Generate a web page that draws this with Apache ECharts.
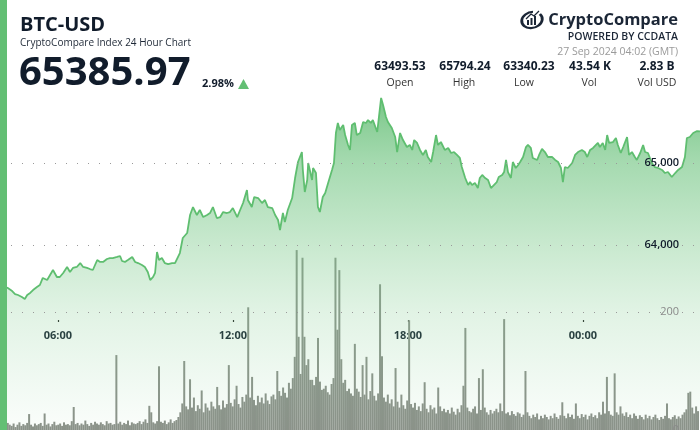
<!DOCTYPE html>
<html><head><meta charset="utf-8">
<script src="https://cdn.jsdelivr.net/npm/echarts@6/dist/echarts.min.js"></script>
<style>html,body{margin:0;padding:0;background:#fff}#c{width:700px;height:430px}</style>
</head><body><div id="c"></div>
<script>
// ---- data ----
const startTime = Date.UTC(2024, 8, 26, 4, 1);   // 26 Sep 2024 04:01 GMT
const endTime = startTime + 24 * 3600 * 1000;
// [minutes since start, price USD]
const pricePoints = [[0,63494],[16,63476],[25,63439],[31,63402],[37,63390],[45,63366],[51,63341],[56,63390],[62,63415],[68,63451],[76,63488],[82,63512],[88,63598],[97,63573],[103,63634],[109,63695],[117,63610],[123,63610],[130,63659],[138,63732],[144,63671],[150,63720],[158,63732],[165,63780],[171,63732],[179,63720],[185,63707],[191,63695],[200,63817],[206,63793],[212,63793],[220,63829],[226,63841],[232,63841],[241,63854],[247,63866],[251,63805],[257,63793],[263,63817],[272,63854],[278,63793],[284,63780],[292,63756],[298,63732],[304,63671],[309,63573],[315,63610],[319,63659],[323,63915],[327,63817],[333,63841],[339,63780],[346,63768],[354,63780],[360,63780],[370,63902],[376,64085],[385,64146],[391,64366],[397,64463],[405,64366],[411,64427],[418,64341],[426,64366],[432,64390],[438,64463],[446,64329],[453,64341],[459,64402],[467,64390],[473,64402],[479,64451],[488,64341],[494,64427],[500,64512],[508,64671],[510,64549],[518,64463],[523,64585],[531,64573],[539,64512],[545,64549],[551,64463],[560,64451],[566,64366],[572,64305],[576,64183],[582,64390],[586,64280],[592,64427],[601,64573],[607,64817],[613,65012],[621,65134],[623,64915],[627,64646],[632,64793],[634,65000],[642,64793],[644,64939],[650,64878],[654,64463],[658,64402],[664,64585],[669,64634],[675,64756],[683,64915],[687,65000],[691,65366],[695,65488],[699,65402],[706,65463],[710,65341],[716,65220],[720,65159],[724,65463],[730,65488],[734,65341],[741,65366],[747,65500],[753,65488],[757,65524],[763,65488],[767,65524],[776,65378],[778,65366],[784,65794],[788,65707],[794,65561],[798,65500],[806,65427],[813,65317],[817,65134],[823,65366],[829,65280],[837,65195],[843,65220],[848,65159],[852,65280],[858,65244],[864,65159],[870,65098],[876,65159],[880,65073],[887,65012],[891,65134],[897,65341],[901,65220],[907,65256],[911,65244],[915,65159],[922,65183],[928,65122],[934,65134],[940,65098],[946,65061],[950,64951],[957,64817],[963,64732],[967,64768],[971,64732],[977,64756],[983,64695],[987,64817],[992,64854],[998,64817],[1004,64793],[1010,64695],[1014,64707],[1022,64768],[1026,64829],[1033,64854],[1037,64890],[1041,65037],[1045,64890],[1051,64817],[1055,65012],[1061,64939],[1066,64976],[1070,65012],[1076,65073],[1082,65195],[1086,65220],[1092,65183],[1096,65061],[1105,65037],[1109,65098],[1115,65171],[1121,65134],[1127,65073],[1136,65073],[1142,65037],[1148,65012],[1154,64939],[1158,64768],[1162,64951],[1168,64939],[1177,65000],[1183,65098],[1189,65134],[1197,65159],[1203,65134],[1208,65073],[1214,65159],[1220,65183],[1224,65159],[1230,65244],[1234,65195],[1240,65244],[1245,65159],[1249,65341],[1253,65244],[1261,65256],[1267,65305],[1271,65220],[1277,65122],[1282,65195],[1290,65317],[1294,65098],[1300,65134],[1306,65073],[1310,65037],[1317,65122],[1323,65220],[1327,65134],[1333,65122],[1341,65000],[1347,64951],[1354,64939],[1362,64915],[1368,64878],[1374,64890],[1382,64829],[1389,64878],[1395,64915],[1403,64951],[1409,65073],[1413,65305],[1419,65317],[1426,65366],[1434,65390],[1440,65386]];
// volume (BTC) per 4-minute bucket, 360 buckets
const volumeBucketMinutes = 4;
const volumeValues = [
8,10,6,12,9,7,11,5,9,13, 7,10,8,12,27,9,6,11,8,10, 12,7,28,9,11,6,10,14,8,9, 11,7,13,9,10,8,15,39,10,12,
8,11,9,16,10,7,12,9,14,11, 9,13,10,8,15,11,12,9,10,127, 11,14,9,12,10,16,8,13,11,10, 12,15,10,14,18,12,41,30,13,11,
15,108,14,12,16,10,13,18,12,15, 17,22,30,45,117,40,35,86,38,55, 32,42,36,67,30,45,38,33,48,40, 36,73,42,35,50,38,44,110,46,40,
52,75,44,38,56,48,60,208,55,90, 51,42,58,47,55,45,62,50,44,57, 60,52,100,66,58,72,63,55,80,70, 88,124,305,158,95,292,158,110,120,85,
85,76,90,156,82,68,70,75,64,60, 78,88,292,170,271,120,80,85,66,70, 62,58,146,70,65,56,110,60,124,52, 66,96,58,50,62,247,125,55,48,60,
45,52,40,105,48,38,60,42,36,50, 186,44,38,46,34,40,32,45,81,36, 30,42,35,38,28,72,40,32,36,30, 34,28,38,31,26,36,30,42,75,173,
38,32,30,36,40,28,88,34,103,38, 30,26,34,28,32,36,30,45,32,188, 28,30,25,32,27,24,30,28,22,26, 100,30,24,20,26,22,28,18,24,20,
26,22,18,24,20,28,22,19,25,47, 24,20,28,22,26,19,45,24,20,27, 22,26,18,24,28,22,25,20,30,26, 48,28,90,32,26,24,96,30,26,40,
28,24,30,22,26,20,28,24,19,25, 22,18,26,20,24,18,22,26,20,17, 22,19,24,45,20,18,22,25,19,23, 20,26,30,35,63,65,38,28,40,32];
const timeTicks = ['2024-09-26T06:00:00Z', '2024-09-26T12:00:00Z', '2024-09-26T18:00:00Z', '2024-09-27T00:00:00Z'];
const priceAxisLabels = [64000, 65000];
const volumeAxisLabels = [0, 200];
const statValues = ['63493.53', '65794.24', '63340.23', '43.54 K', '2.83 B'];
const statLabels = ['Open', 'High', 'Low', 'Vol', 'Vol USD'];
const lastPrice = '65385.97';
const changePct = '2.98%';

// ---- build ----
const priceData = pricePoints.map(p => [startTime + p[0] * 60000, p[1]]);
const volumeData = volumeValues.map((v, i) => [startTime + (i * volumeBucketMinutes + volumeBucketMinutes / 2) * 60000, v]);
const tickTimes = timeTicks.map(t => Date.parse(t));

const FONT = '"Open Sans", "Noto Sans", sans-serif';
const dark = '#111c2b';
function txt(x, y, text, size, weight, color, align) {
  return {type: 'text', x: x, y: y, z: 50, silent: true,
    style: {text: text, font: weight + ' ' + size + 'px ' + FONT, fill: color,
      textAlign: align || 'left', align: align || 'left', textVerticalAlign: 'middle', verticalAlign: 'middle'}};
}
const statX = [400, 465, 529, 590, 657];
const statLabelX = [400, 464, 524, 589, 657];
const graphics = [
  {type: 'rect', z: 100, silent: true, shape: {x: 0, y: 0, width: 7, height: 430}, style: {fill: '#63bf74'}},
  txt(20, 25, 'BTC-USD', 20, 'bold', dark),
  txt(20, 43, 'CryptoCompare Index 24 Hour Chart', 10, 'normal', '#1f2937'),
  txt(19, 74, lastPrice, 40, 'bold', dark),
  txt(202, 84, changePct, 11, 'bold', dark),
  {type: 'polygon', z: 50, silent: true, shape: {points: [[238, 89], [249, 89], [243.5, 79]]}, style: {fill: '#63bf74'}},
  // logo
  {type: 'arc', z: 50, silent: true, x: 532, y: 20, scaleX: 1.3, rotation: 0.25,
    shape: {cx: 0, cy: 0, r: 8, startAngle: -0.5, endAngle: 5.0}, style: {stroke: '#1b2636', lineWidth: 2.2, fill: null}},
  {type: 'rect', z: 50, silent: true, shape: {x: 527, y: 20, width: 2, height: 5}, style: {fill: '#1b2636'}},
  {type: 'rect', z: 50, silent: true, shape: {x: 530.5, y: 18, width: 2, height: 7}, style: {fill: '#1b2636'}},
  {type: 'rect', z: 50, silent: true, shape: {x: 534, y: 16, width: 2, height: 9}, style: {fill: '#1b2636'}},
  {type: 'polyline', z: 50, silent: true, shape: {points: [[526, 19], [531, 14], [534, 16], [539, 11]]}, style: {stroke: '#1b2636', lineWidth: 1.3, fill: null}},
  txt(678, 20, 'CryptoCompare', 16.5, 'bold', '#1b2636', 'right'),
  txt(678, 37, 'POWERED BY CCDATA', 10.5, '600', '#1b2636', 'right'),
  txt(678, 52, '27 Sep 2024 04:02 (GMT)', 10.5, 'normal', '#9a9a9a', 'right')
];
statValues.forEach((v, i) => graphics.push(txt(statX[i], 67, v, 12, 'bold', dark, 'center')));
statLabels.forEach((v, i) => graphics.push(txt(statLabelX[i], 83, v, 10.5, 'normal', '#333', 'center')));

const dots = {type: [1, 10], color: '#999', width: 1};
const fmtNum = v => String(v).replace(/\B(?=(\d{3})+(?!\d))/g, ',');
const pad = n => (n < 10 ? '0' : '') + n;

const option = {
  useUTC: true,
  animation: false,
  backgroundColor: '#fff',
  textStyle: {fontFamily: FONT},
  grid: [
    {left: 0, right: 0, top: 81, height: 410, outerBoundsMode: 'none', containLabel: false},   // price
    {left: 0, right: 0, top: 194, bottom: 0, outerBoundsMode: 'none', containLabel: false},    // volume
    {left: 0, right: 0, top: 0, height: 320, outerBoundsMode: 'none', containLabel: false}     // time labels
  ],
  xAxis: [
    {type: 'time', gridIndex: 0, min: startTime, max: endTime, show: false},
    {type: 'time', gridIndex: 1, min: startTime, max: endTime, show: false},
    {type: 'value', gridIndex: 2, min: startTime, max: endTime, scale: true,
      axisLine: {show: false}, splitLine: {show: false},
      axisTick: {show: true, length: 2, customValues: tickTimes, lineStyle: {color: '#222', width: 1.2}},
      axisLabel: {margin: 10, fontSize: 11, fontWeight: 'bold', color: dark, fontFamily: FONT, customValues: tickTimes,
        formatter: v => { const d = new Date(v); return pad(d.getUTCHours()) + ':' + pad(d.getUTCMinutes()); }}}
  ],
  yAxis: [
    {type: 'value', gridIndex: 0, position: 'right', min: 61000, max: 66000, interval: 1000, z: 5,
      axisLine: {show: false}, axisTick: {show: false},
      splitLine: {show: true, lineStyle: Object.assign({}, dots, {color: ['transparent', 'transparent', 'transparent', '#999', '#999', 'transparent']})},
      axisLabel: {inside: true, margin: 21, fontSize: 11, fontWeight: 600, color: dark, fontFamily: FONT,
        formatter: v => priceAxisLabels.indexOf(v) >= 0 ? fmtNum(v) : ''}},
    {type: 'value', gridIndex: 1, position: 'right', min: 0, max: 400, interval: 200, z: 5,
      axisLine: {show: false}, axisTick: {show: false},
      splitLine: {show: true, lineStyle: Object.assign({}, dots, {color: ['transparent', '#999', 'transparent']})},
      axisLabel: {inside: true, margin: 21, fontSize: 11, color: '#8a8a8a', fontFamily: FONT,
        formatter: v => volumeAxisLabels.indexOf(v) >= 0 ? String(v) : ''}},
    {type: 'value', gridIndex: 2, min: 0, max: 1, show: false}
  ],
  series: [
    {type: 'line', xAxisIndex: 0, yAxisIndex: 0, data: priceData, showSymbol: false, symbol: 'none',
      lineStyle: {color: '#5fbe70', width: 1.8},
      areaStyle: {opacity: 1, color: {type: 'linear', x: 0, y: 95, x2: 0, y2: 430, global: true, colorStops: [
        {offset: 0, color: 'rgba(96,188,113,0.85)'},
        {offset: 0.2, color: 'rgba(110,195,127,0.62)'},
        {offset: 0.45, color: 'rgba(120,200,135,0.40)'},
        {offset: 0.65, color: 'rgba(130,205,145,0.24)'},
        {offset: 1, color: 'rgba(140,210,155,0.04)'}]}}},
    {type: 'bar', xAxisIndex: 1, yAxisIndex: 1, data: volumeData, barWidth: 2, itemStyle: {color: '#8b9089'}},
    {type: 'line', xAxisIndex: 2, yAxisIndex: 2, data: [], silent: true}
  ],
  graphic: graphics
};
const chart = echarts.init(document.getElementById('c'), null, {renderer: 'canvas'});
chart.setOption(option);
</script></body></html>
